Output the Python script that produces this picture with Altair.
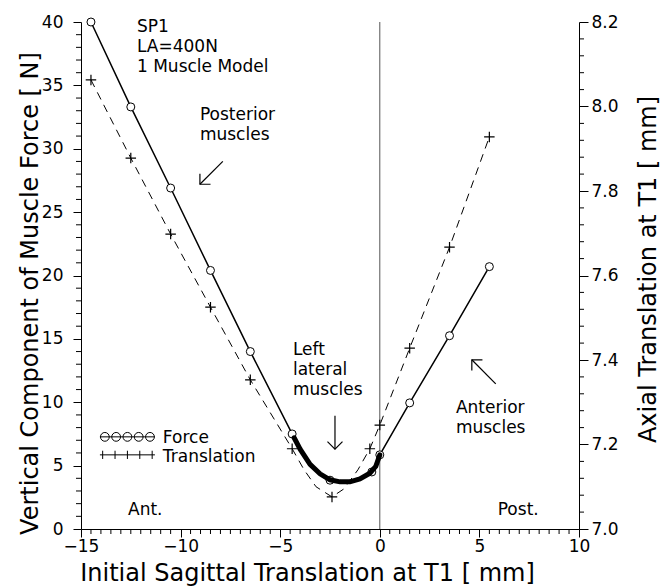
import altair as alt
import pandas as pd

# ---------------- data ----------------
# Vertical component of muscle force [N] (left axis), circles, solid line
force_x = [-14.5, -12.5, -10.5, -8.5, -6.5, -4.4, -2.5, -0.4, 0.0, 1.5, 3.5, 5.5]
force_y = [40.0, 33.3, 26.9, 20.4, 14.0, 7.5, 3.85, 4.5, 5.85, 9.95, 15.25, 20.7]
# densely sampled force curve in the "left lateral muscles" region (thick)
lat_x = [-4.3, -4.0, -3.5, -3.0, -2.5, -2.0, -1.5, -1.0, -0.5, -0.2, 0.0]
lat_y = [7.2, 6.3, 5.1, 4.35, 3.88, 3.72, 3.72, 3.95, 4.4, 4.95, 5.85]
# Axial translation at T1 [mm] (right axis), plus markers, dashed line
trans_x = [-14.5, -12.5, -10.5, -8.5, -6.5, -4.4, -2.4, -0.5, 0.0, 1.5, 3.5, 5.5]
trans_y = [8.063, 7.878, 7.698, 7.525, 7.353, 7.19, 7.076, 7.19, 7.246, 7.428, 7.667, 7.928]
trans_curve_x = [-3.8, -3.2, -1.8, -1.1]
trans_curve_y = [7.14, 7.10, 7.095, 7.14]

# axis ticks
x_major = [-15, -10, -5, 0, 5, 10]
x_minor = [-15 + 0.5 * i for i in range(51) if i % 10]
yl_major = [0, 5, 10, 15, 20, 25, 30, 35, 40]
yl_minor = [i for i in range(41) if i % 5]
yr_major = [7.0, 7.2, 7.4, 7.6, 7.8, 8.0, 8.2]
yr_minor = [round(7.0 + 0.04 * i, 2) for i in range(31) if i % 5]

# annotations (data coordinates, first-line baseline)
ann_text = ["SP1\nLA=400N\n1 Muscle Model", "Posterior\nmuscles",
            "Left\nlateral\nmuscles", "Anterior\nmuscles", "Ant.", "Post."]
ann_x = [-12.19, -9.03, -4.36, 3.82, -12.64, 5.92]
ann_y = [39.18, 32.23, 13.74, 9.16, 1.1, 1.1]
arrow_x1 = [-7.88, -2.25, 5.82]
arrow_y1 = [29.0, 8.93, 11.45]
arrow_x2 = [-9.03, -2.25, 4.62]
arrow_y2 = [27.2, 6.3, 13.35]
arrow_angle = [45, 0, 135]

legend_labels = ["Force", "Translation"]
legend_x = [-12.67, -12.67]
legend_y = [7.27, 5.85]
legend_tx = [-10.89, -10.89]
legend_ty = [6.79, 5.29]

# ---------------- chart ----------------
W, H = 498, 507
FONT = "DejaVu Sans"

xs = alt.Scale(domain=[-15, 10], nice=False, zero=False)
ysl = alt.Scale(domain=[0, 40], nice=False, zero=False)
ysr = alt.Scale(domain=[7.0, 8.2], nice=False, zero=False)

# one identical x axis definition shared by every layer (shared x scale)
x_axis = alt.Axis(values=x_major, title="Initial Sagittal Translation at T1 [ mm]",
                  orient="bottom", tickSize=8, labelPadding=1, labelFlush=False,
                  titleX=226, titleY=51, titleBaseline="alphabetic", titleAlign="center",
                  titleFontSize=24)
yl_axis = alt.Axis(values=yl_major, orient="left",
                   title="Vertical Component of Muscle Force [ N]",
                   tickSize=8, labelPadding=10,
                   titleAngle=270, titleX=-44, titleY=271, titleBaseline="alphabetic",
                   titleAlign="center", titleFontSize=24)
yr_axis = alt.Axis(values=yr_major, orient="right", format=".1f",
                   title="Axial Translation at T1 [ mm]",
                   tickSize=9, labelPadding=3,
                   titleAngle=270, titleX=76, titleY=247, titleBaseline="alphabetic",
                   titleAlign="center", titleFontSize=24)


def X(f="x"):
    return alt.X(f"{f}:Q", scale=xs, axis=x_axis)


def YL(f="y", axis=None):
    return alt.Y(f"{f}:Q", scale=ysl, axis=axis)


def YR(f="y", axis=None):
    return alt.Y(f"{f}:Q", scale=ysr, axis=axis)


df_force = pd.DataFrame({"x": force_x, "y": force_y})
df_lat = pd.DataFrame({"x": lat_x, "y": lat_y})
df_force_line = (pd.concat([df_force, df_lat]).drop_duplicates("x")
                 .sort_values("x").reset_index(drop=True))
df_trans = pd.DataFrame({"x": trans_x, "y": trans_y})
df_trans_line = (pd.concat([df_trans, pd.DataFrame({"x": trans_curve_x, "y": trans_curve_y})])
                 .sort_values("x").reset_index(drop=True))

force_line = alt.Chart(df_force_line).mark_line(color="black", strokeWidth=1.5).encode(
    x=X(), y=YL(axis=yl_axis))
trans_line = alt.Chart(df_trans_line).mark_line(color="black", strokeWidth=1,
                                                strokeDash=[8, 6]).encode(
    x=X(), y=YR(axis=yr_axis))

vline = alt.Chart(pd.DataFrame({"x": [0]})).mark_rule(color="#555", strokeWidth=1).encode(
    x=X(), y=alt.value(0), y2=alt.value(H))

force_pts = alt.Chart(df_force).mark_point(
    shape="circle", filled=True, fill="white", stroke="black", strokeWidth=1,
    size=64, opacity=1).encode(x=X(), y=YL())
force_thick = alt.Chart(df_lat).mark_line(color="black", strokeWidth=5, strokeCap="round").encode(
    x=X(), y=YL())
trans_pts = alt.Chart(df_trans).mark_point(shape="M-1,0H1M0,-1V1", filled=False, color="black",
                                           strokeWidth=1.2, size=110, opacity=1).encode(
    x=X(), y=YR())

x_minor_ticks = alt.Chart(pd.DataFrame({"x": x_minor})).mark_rule(color="black", strokeWidth=1).encode(
    x=X(), y=alt.value(H), y2=alt.value(H + 5))
yl_minor_ticks = alt.Chart(pd.DataFrame({"y": yl_minor})).mark_rule(color="black", strokeWidth=1).encode(
    y=YL(), x=alt.value(-5), x2=alt.value(0))
yr_minor_ticks = alt.Chart(pd.DataFrame({"y": yr_minor})).mark_rule(color="black", strokeWidth=1).encode(
    y=YR(), x=alt.value(W), x2=alt.value(W + 5))

df_ann = pd.DataFrame({"x": ann_x, "y": ann_y, "t": ann_text})
texts = alt.Chart(df_ann).mark_text(align="left", baseline="alphabetic", font=FONT,
                                    fontSize=17, lineHeight=20, lineBreak="\n",
                                    color="black").encode(
    x=X(), y=YL(), text="t:N")

df_arrow = pd.DataFrame({"x": arrow_x1, "y": arrow_y1, "x2": arrow_x2, "y2": arrow_y2,
                         "a": arrow_angle})
arrows = alt.Chart(df_arrow).mark_rule(color="black", strokeWidth=1.2).encode(
    x=X(), y=YL(), x2="x2:Q", y2="y2:Q")
heads = alt.Chart(df_arrow).mark_point(shape="M-1,-1L0,0L1,-1", filled=False, color="black",
                                       strokeWidth=1.2, size=225, opacity=1).encode(
    x=X("x2"), y=YL("y2"), angle=alt.Angle("a:Q", scale=None))

# legend symbols: line with five circles / five crosses
circ_path = "M-1,0H1" + "".join(
    f"M{c - 0.16:.2f},0A0.16,0.16 0 1,0 {c + 0.16:.2f},0A0.16,0.16 0 1,0 {c - 0.16:.2f},0"
    for c in [-0.82, -0.41, 0.0, 0.41, 0.82])
plus_path = "M-1,0H1" + "".join(f"M{c},-0.15V0.15" for c in [-0.9, -0.45, 0, 0.45, 0.9])
df_leg = pd.DataFrame({"x": legend_x, "y": legend_y, "shape": [circ_path, plus_path],
                       "tx": legend_tx, "ty": legend_ty, "t": legend_labels})
leg_sym = alt.Chart(df_leg).mark_point(filled=False, color="black", strokeWidth=1,
                                       size=3025, opacity=1).encode(
    x=X(), y=YL(), shape=alt.Shape("shape:N", scale=None))
leg_txt = alt.Chart(df_leg).mark_text(align="left", baseline="alphabetic", font=FONT,
                                      fontSize=17, color="black").encode(
    x=X("tx"), y=YL("ty"), text="t:N")

chart = alt.layer(
    force_line, trans_line, vline, force_pts, force_thick, trans_pts,
    x_minor_ticks, yl_minor_ticks, yr_minor_ticks,
    texts, arrows, heads, leg_sym, leg_txt,
).resolve_scale(y="independent").properties(
    width=W, height=H,
    autosize=alt.AutoSizeParams(type="none"),
    padding={"left": 81, "top": 22, "right": 90, "bottom": 58},
    background="white",
).configure_view(strokeWidth=0).configure_axis(
    grid=False, labelFont=FONT, labelFontSize=17, labelColor="black",
    titleFont=FONT, titleFontWeight="normal", titleColor="black",
    domainColor="black", tickColor="black", domainWidth=1, tickWidth=1,
)

chart.save("out.html", embed_options={"renderer": "svg", "actions": False})
